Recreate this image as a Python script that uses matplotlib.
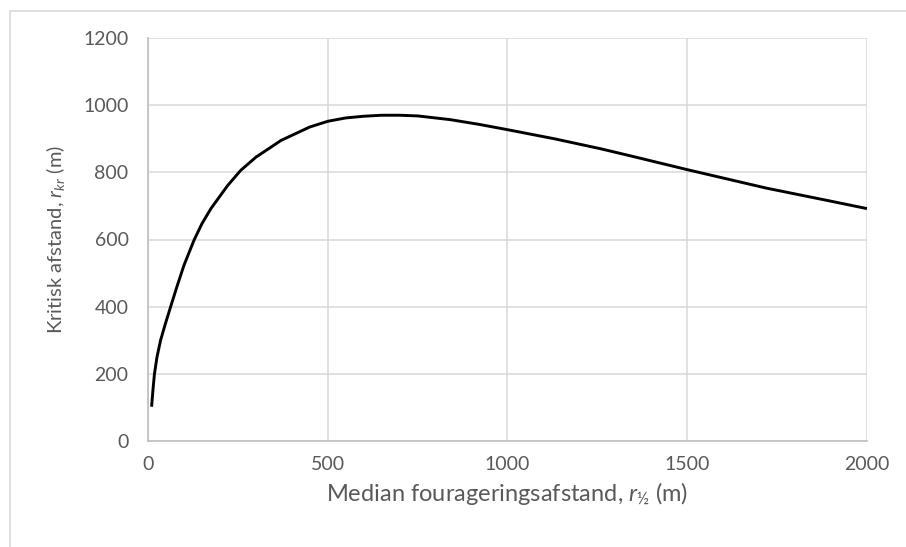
import matplotlib
matplotlib.use("Agg")
import matplotlib.pyplot as plt
from matplotlib.patches import Rectangle

median_dist = [10, 14, 18, 25, 35, 48, 63, 80, 100, 128, 150, 175, 221, 258,
               300, 370, 450, 500, 550, 600, 650, 700, 750, 840, 920, 1000,
               1130, 1260, 1350, 1500, 1720, 1900, 2000]
critical_dist = [102, 155, 200, 250, 300, 348, 400, 458, 523, 598, 647, 692,
                 760, 806, 845, 895, 935, 952, 962, 967, 970, 970, 968, 957,
                 943, 927, 900, 870, 847, 808, 753, 714, 692]

x_ticks = [0, 500, 1000, 1500, 2000]
y_ticks = [0, 200, 400, 600, 800, 1000, 1200]

plt.rcParams["font.family"] = ["Lato", "DejaVu Sans"]
plt.rcParams["mathtext.fontset"] = "custom"
plt.rcParams["mathtext.rm"] = "Lato"
plt.rcParams["mathtext.it"] = "Lato:italic"

text_col = "#595959"
grid_col = "#d9d9d9"

fig = plt.figure(figsize=(9.06, 5.47), dpi=100)

# Outer chart frame (only top and left edges are in view)
fig.patches.append(Rectangle((10 / 906, -0.2), 2, 1.2 - 11 / 547,
                             transform=fig.transFigure, fill=False,
                             edgecolor=grid_col, linewidth=1.2))

ax = fig.add_axes([148 / 906, 106 / 547, 719 / 906, 403 / 547])

ax.plot(median_dist, critical_dist, color="black", linewidth=2.1,
        solid_capstyle="butt", solid_joinstyle="round", zorder=3)

ax.set_xlim(0, 2000)
ax.set_ylim(0, 1200)
ax.set_xticks(x_ticks)
ax.set_yticks(y_ticks)

ax.grid(True, color=grid_col, linewidth=1.1)
ax.set_axisbelow(True)
for side in ["top", "right"]:
    ax.spines[side].set_visible(False)
for side in ["left", "bottom"]:
    ax.spines[side].set_color("#bfbfbf")
    ax.spines[side].set_linewidth(1.2)

ax.tick_params(axis="both", length=0, labelsize=14, colors=text_col)
ax.tick_params(axis="y", pad=14)
ax.tick_params(axis="x", pad=11)

ax.set_xlabel(r"Median fourageringsafstand, $r_{½}$ (m)", fontsize=17,
              color=text_col, labelpad=5)
ax.set_ylabel(r"Kritisk afstand, $r_{kr}$ (m)", fontsize=14.5,
              color=text_col, labelpad=12)

fig.savefig("out.png", dpi=100)
